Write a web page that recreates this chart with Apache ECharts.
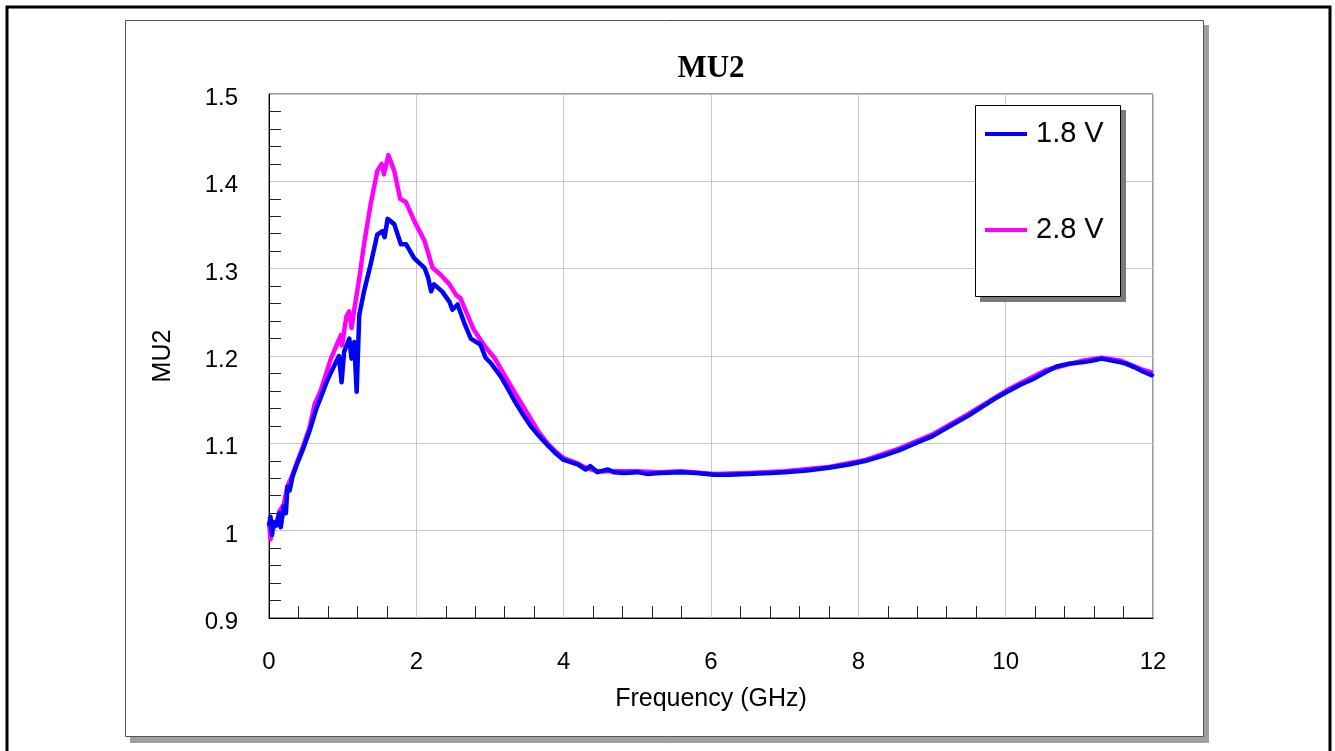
<!DOCTYPE html>
<html lang="en">

<head>
    <meta charset="utf-8">
    <title>MU2</title>
    <script src="https://cdn.jsdelivr.net/npm/echarts@6.0.0/dist/echarts.min.js"></script>

    <style>* {
        margin: 0;
        padding: 0;
    }

    #chart-container {
        position: relative;
        width: 1335px;
        height: 751px;
        overflow: hidden;
        background: #fff;
    }</style>
</head>

<body>
    <div id="chart-container"></div>
    <script>
      // frequency (GHz) and MU2
      var freq18 = [0.00, 0.02, 0.04, 0.06, 0.10, 0.14, 0.16, 0.20, 0.23, 0.25, 0.28, 0.32, 0.37, 0.46, 0.55,
          0.64, 0.70, 0.80, 0.88, 0.95, 0.985, 1.02, 1.09, 1.12, 1.157, 1.19, 1.225, 1.29, 1.38, 1.47,
          1.54, 1.57, 1.61, 1.70, 1.79, 1.86, 1.97, 2.11, 2.16, 2.20, 2.24, 2.35, 2.45, 2.49, 2.56,
          2.65, 2.74, 2.87, 2.94, 3.01, 3.15, 3.24, 3.33, 3.44, 3.55, 3.66, 3.78, 3.90, 4.00, 4.19,
          4.30, 4.36, 4.46, 4.60, 4.68, 4.82, 5.00, 5.13, 5.30, 5.59, 5.80, 6.04, 6.24, 6.50, 6.80,
          7.00, 7.30, 7.60, 7.89, 8.10, 8.34, 8.55, 8.80, 9.00, 9.25, 9.50, 9.70, 9.85, 10.02, 10.20,
          10.38, 10.55, 10.69, 10.85, 11.06, 11.20, 11.30, 11.42, 11.55, 11.64, 11.75, 11.87, 11.98, 12.00];
      var mu18 = [1.005, 1.016, 0.995, 1.010, 1.006, 1.020, 1.004, 1.028, 1.020, 1.050, 1.046, 1.062, 1.074, 1.093, 1.114,
          1.139, 1.152, 1.174, 1.188, 1.200, 1.170, 1.205, 1.220, 1.197, 1.216, 1.159, 1.247, 1.274, 1.305, 1.339,
          1.343, 1.336, 1.357, 1.351, 1.328, 1.328, 1.312, 1.301, 1.290, 1.274, 1.282, 1.274, 1.262, 1.253, 1.259,
          1.238, 1.220, 1.213, 1.198, 1.192, 1.176, 1.163, 1.149, 1.134, 1.120, 1.109, 1.098, 1.088, 1.081, 1.076,
          1.070, 1.074, 1.067, 1.070, 1.067, 1.066, 1.067, 1.065, 1.066, 1.067, 1.066, 1.064, 1.064, 1.065, 1.066,
          1.067, 1.069, 1.072, 1.076, 1.080, 1.086, 1.092, 1.101, 1.108, 1.120, 1.132, 1.143, 1.151, 1.159, 1.167,
          1.174, 1.182, 1.188, 1.191, 1.193, 1.195, 1.197, 1.195, 1.193, 1.191, 1.187, 1.182, 1.178, 1.180];

      var freq28 = [0.00, 0.02, 0.05, 0.10, 0.14, 0.20, 0.25, 0.32, 0.37, 0.46, 0.55, 0.62, 0.70, 0.84, 0.976,
          0.99, 1.05, 1.09, 1.12, 1.157, 1.225, 1.29, 1.38, 1.47, 1.53, 1.56, 1.62, 1.70, 1.78, 1.86,
          1.97, 2.11, 2.22, 2.33, 2.45, 2.54, 2.60, 2.78, 2.94, 3.06, 3.28, 3.51, 3.66, 3.78, 3.90,
          4.00, 4.19, 4.30, 4.46, 4.68, 5.00, 5.30, 5.59, 6.04, 6.50, 7.00, 7.60, 8.10, 8.55, 9.00,
          9.50, 10.02, 10.55, 11.06, 11.30, 11.55, 11.87, 12.00];
      var mu28 = [1.010, 0.990, 1.002, 1.008, 1.022, 1.030, 1.051, 1.064, 1.076, 1.096, 1.118, 1.145, 1.160, 1.197, 1.224,
          1.212, 1.245, 1.251, 1.232, 1.253, 1.289, 1.328, 1.374, 1.412, 1.420, 1.408, 1.430, 1.412, 1.380, 1.376,
          1.355, 1.332, 1.301, 1.293, 1.282, 1.270, 1.266, 1.230, 1.210, 1.198, 1.166, 1.134, 1.113, 1.100, 1.090,
          1.083, 1.077, 1.072, 1.068, 1.068, 1.068, 1.067, 1.068, 1.065, 1.066, 1.068, 1.073, 1.081, 1.094, 1.110,
          1.134, 1.161, 1.184, 1.195, 1.198, 1.195, 1.184, 1.181];

      var seriesNames = ['1.8 V', '2.8 V'];
      var seriesColors = ['#0000ff', '#ff00ff'];

      function pairs(xs, ys) {
          return xs.map(function (x, i) { return [x, ys[i]]; });
      }

      var myChart = echarts.init(document.getElementById('chart-container'));

      myChart.setOption({
          animation: false,
          textStyle: { fontFamily: 'Liberation Sans' },
          graphic: [
              // outer black frame
              { type: 'rect', z: -30, shape: { x: 7, y: 7, width: 1323, height: 760 },
                style: { fill: '#fff', stroke: '#000', lineWidth: 3 } },
              // panel shadow + panel
              { type: 'rect', z: -20, shape: { x: 130, y: 25, width: 1079, height: 718 },
                style: { fill: '#a0a0a0' } },
              { type: 'rect', z: -10, shape: { x: 125.5, y: 20.5, width: 1078, height: 716 },
                style: { fill: '#fff', stroke: '#555', lineWidth: 1 } },
              // legend box shadow + box
              { type: 'rect', z: 50, shape: { x: 980, y: 110, width: 146, height: 192 },
                style: { fill: '#7a7a7a' } },
              { type: 'rect', z: 51, shape: { x: 975.5, y: 105.5, width: 145, height: 191 },
                style: { fill: '#fff', stroke: '#000', lineWidth: 1 } },
              // title
              { type: 'text', z: 60, x: 711, y: 69,
                style: { text: 'MU2', font: 'bold 31px "Liberation Serif"', fill: '#000',
                         textAlign: 'center', textVerticalAlign: 'middle' } }
          ],
          legend: {
              z: 60,
              orient: 'vertical',
              left: 985,
              top: 119,
              padding: 0,
              itemGap: 66,
              itemWidth: 42,
              itemHeight: 4,
              icon: 'rect',
              data: seriesNames,
              textStyle: { fontSize: 29, lineHeight: 30, color: '#000', padding: [0, 0, 0, 4],
                           fontFamily: 'Liberation Sans' }
          },
          grid: {
              left: 269, top: 94, width: 884, height: 524,
              show: true, borderColor: '#333', borderWidth: 1, backgroundColor: 'transparent'
          },
          xAxis: {
              type: 'value',
              min: 0, max: 12, interval: 2,
              name: 'Frequency (GHz)',
              nameLocation: 'middle',
              nameGap: 69,
              nameTextStyle: { fontSize: 25, color: '#000' },
              axisLine: { lineStyle: { color: '#000', width: 1 } },
              axisTick: { show: false, inside: true },
              minorTick: { show: true, splitNumber: 5, length: 12, lineStyle: { color: '#222', width: 1 } },
              axisLabel: { fontSize: 24, color: '#000', margin: 32 },
              splitLine: { lineStyle: { color: '#c8c8c8', width: 1 } }
          },
          yAxis: {
              type: 'value',
              min: 0.9, max: 1.5, interval: 0.1,
              name: 'MU2',
              nameLocation: 'middle',
              nameGap: 93,
              nameTextStyle: { fontSize: 25, color: '#000' },
              axisLine: { show: true, lineStyle: { color: '#000', width: 1 } },
              axisTick: { show: false, inside: true },
              minorTick: { show: true, splitNumber: 5, length: 12, lineStyle: { color: '#222', width: 1 } },
              axisLabel: {
                  fontSize: 24, color: '#000', margin: 31,
                  formatter: function (v) { return '{v|' + (Math.round(v * 10) / 10) + '}'; },
                  rich: { v: { fontSize: 24, color: '#000', padding: [9, 0, 0, 0] } }
              },
              splitLine: { lineStyle: { color: '#c8c8c8', width: 1 } }
          },
          series: [
              {
                  name: seriesNames[0],
                  type: 'line',
                  z: 4,
                  data: pairs(freq18, mu18),
                  showSymbol: false,
                  color: seriesColors[0],
                  lineStyle: { width: 4.5, color: seriesColors[0], join: 'round' }
              },
              {
                  name: seriesNames[1],
                  type: 'line',
                  z: 3,
                  data: pairs(freq28, mu28),
                  showSymbol: false,
                  color: seriesColors[1],
                  lineStyle: { width: 4.5, color: seriesColors[1], join: 'round' }
              }
          ]
      });
  </script>

</body>

</html>
